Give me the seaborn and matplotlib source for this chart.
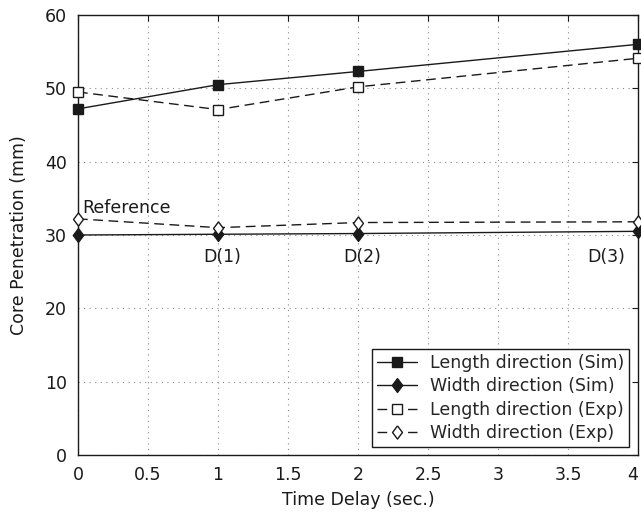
import numpy as np
import matplotlib
matplotlib.use("Agg")
import matplotlib.pyplot as plt
import seaborn as sns
import pandas as pd

time_delay = [0, 1, 2, 4]
length_sim = [47.2, 50.5, 52.3, 56.0]
width_sim = [30.0, 30.1, 30.2, 30.5]
length_exp = [49.5, 47.1, 50.2, 54.1]
width_exp = [32.2, 31.0, 31.7, 31.8]

series_names = ["Length direction (Sim)", "Width direction (Sim)",
                "Length direction (Exp)", "Width direction (Exp)"]
series_values = [length_sim, width_sim, length_exp, width_exp]

sns.set_style("white")
plt.rcParams['font.family'] = ['DejaVu Sans']
fs = 12.5
ink = "#1a1a1a"

df = pd.concat([pd.DataFrame({"t": time_delay, "v": vals, "name": nm})
                for nm, vals in zip(series_names, series_values)])

fig = plt.figure(figsize=(6.41, 5.17), dpi=100)
ax = fig.add_axes([78 / 641, 62 / 517, 560 / 641, 440 / 517])

# diamond a bit taller than wide, like the original markers
diamond = [(0, 1), (0.75, 0), (0, -1), (-0.75, 0), (0, 1)]
dash = (0, (7, 4))
styles = {
    "Length direction (Sim)": dict(marker="s", ls="-", mfc=ink, ms=7.2),
    "Width direction (Sim)": dict(marker=diamond, ls="-", mfc=ink, ms=10),
    "Length direction (Exp)": dict(marker="s", ls=dash, mfc="white", ms=7.0),
    "Width direction (Exp)": dict(marker=diamond, ls=dash, mfc="white", ms=9.5),
}
for nm in series_names:
    st = styles[nm]
    sns.lineplot(data=df[df["name"] == nm], x="t", y="v", ax=ax, color=ink,
                 marker=st["marker"], linestyle=st["ls"], markerfacecolor=st["mfc"],
                 markeredgecolor=ink, markersize=st["ms"], markeredgewidth=1.0,
                 linewidth=1.0, label=nm, clip_on=False, zorder=3)

ax.set_xlim(0, 4)
ax.set_ylim(0, 60)
ax.set_xticks(np.arange(0, 4.01, 0.5))
ax.set_xticklabels(["0", "0.5", "1", "1.5", "2", "2.5", "3", "3.5", "4"])
ax.get_xticklabels()[-1].set_horizontalalignment("right")
ax.set_yticks(np.arange(0, 61, 10))
ax.grid(True, linestyle=(0, (1, 4)), color="#8a8a8a", linewidth=0.8)
for sp in ax.spines.values():
    sp.set_color(ink)
    sp.set_linewidth(1.0)
ax.tick_params(direction="in", length=4, labelsize=fs, colors=ink,
               top=True, right=True, pad=8)
ax.set_xlabel("Time Delay (sec.)", fontsize=fs, color=ink)
ax.set_ylabel("Core Penetration (mm)", fontsize=fs, color=ink)
ax.xaxis.set_label_coords(0.5, -0.082)
ax.yaxis.set_label_coords(-0.089, 0.5)

ax.text(0.03, 33.0, "Reference", fontsize=fs, ha="left", va="baseline", color=ink)
ax.text(1.03, 28.2, "D(1)", fontsize=fs, ha="center", va="top", color=ink)
ax.text(2.03, 28.2, "D(2)", fontsize=fs, ha="center", va="top", color=ink)
ax.text(3.91, 28.2, "D(3)", fontsize=fs, ha="right", va="top", color=ink)

leg = ax.legend(loc="lower right", bbox_to_anchor=(0.984, 0.018), fontsize=fs,
                frameon=True, fancybox=False, edgecolor=ink, framealpha=1,
                borderaxespad=0, handlelength=2.3, handletextpad=0.7,
                labelspacing=0.3, borderpad=0.3)
leg.get_frame().set_linewidth(1.0)

fig.savefig("out.png", dpi=100)
